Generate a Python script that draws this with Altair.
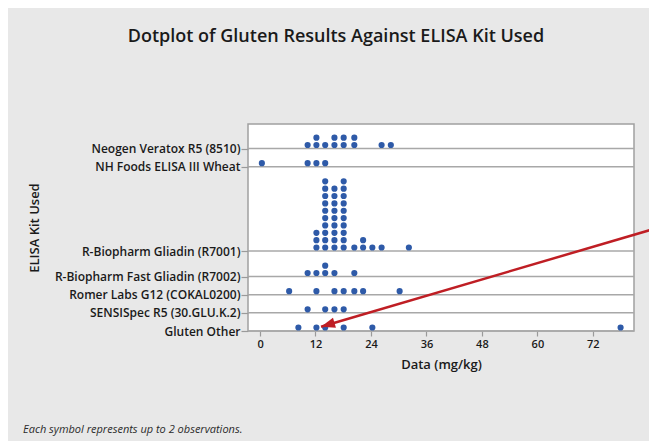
import altair as alt
import pandas as pd

# ---- data (mg/kg); repeated values = stacked dots ----
kits = [
    "Neogen Veratox R5 (8510)",
    "NH Foods ELISA III Wheat",
    "R-Biopharm Gliadin (R7001)",
    "R-Biopharm Fast Gliadin (R7002)",
    "Romer Labs G12 (COKAL0200)",
    "SENSISpec R5 (30.GLU.K.2)",
    "Gluten Other",
]
neogen = [10.3, 12.2, 12.2, 14.1, 16.1, 16.1, 18.1, 18.1, 20.4, 20.4, 26.3, 28.3]
nh_foods = [0.4, 10.3, 12.2, 14.1]
r7001 = [12.2, 12.2, 12.2,
         14.1, 14.1, 14.1, 14.1, 14.1, 14.1, 14.1, 14.1, 14.1, 14.1,
         16.1, 16.1, 16.1, 16.1, 16.1, 16.1, 16.1, 16.1, 16.1,
         18.1, 18.1, 18.1, 18.1, 18.1, 18.1, 18.1, 18.1, 18.1, 18.1,
         20.4, 22.3, 22.3, 24.3, 26.3, 32.2]
r7002 = [10.3, 12.2, 14.1, 14.1, 16.1, 20.4]
romer = [6.3, 12.2, 16.1, 18.1, 20.4, 22.3, 30.2]
sensispec = [10.3, 14.1, 16.1, 18.1]
gluten_other = [8.3, 12.2, 14.1, 18.1, 24.3, 78.0]
series = [neogen, nh_foods, r7001, r7002, romer, sensispec, gluten_other]

x_ticks = [0, 12, 24, 36, 48, 60, 72]
title_text = "Dotplot of Gluten Results Against ELISA Kit Used"
note_text = "Each symbol represents up to 2 observations."

# annotation arrow (data units): start (off the right edge) and tip
arrow_start = (85.8, 14.0)
arrow_tip = (13.2, 0.58)

# ---- dotplot layout: stack dots, groups spaced by their tallest stack ----
GAP = 1.47
rows = []
for kit, vals in zip(kits, series):
    for v in vals:
        rows.append({"kit": kit, "value": v})
df = pd.DataFrame(rows)
df["k"] = df.groupby(["kit", "value"]).cumcount()
maxstack = df.groupby("kit")["k"].max() + 1

baselines = {}
b = 0.0
for kit in reversed(kits):
    baselines[kit] = round(b, 3)
    b += maxstack[kit] + GAP
df["ypos"] = df["kit"].map(baselines) + df["k"] + 0.48

ordered = sorted(baselines.items(), key=lambda t: t[1])
base_df = pd.DataFrame({"kit": [n for n, _ in ordered], "base": [v for _, v in ordered]})
expr = "''"
for i in range(len(ordered) - 1, -1, -1):
    name, val = ordered[i]
    if i == len(ordered) - 1:
        expr = f"'{name}'"
    else:
        mid = (val + ordered[i + 1][1]) / 2
        expr = f"datum.value < {mid:.3f} ? '{name}' : ({expr})"

FONT = "Open Sans"
TXT = "#1a1a1a"

xscale = alt.Scale(domain=[-2.6, 80.9], nice=False, zero=False)
yscale = alt.Scale(domain=[0, 28.16], nice=False, zero=False)

xaxis = alt.Axis(values=x_ticks, title="Data (mg/kg)", grid=False, domain=False,
                 labelOverlap=False,
                 tickColor="#9a9a9a", tickSize=5, tickWidth=1.2,
                 labelFont=FONT, labelFontSize=11, labelFontWeight=600,
                 labelColor=TXT, labelPadding=2,
                 titleFont=FONT, titleFontSize=13, titleFontWeight=600,
                 titleColor=TXT, titleBaseline="alphabetic", titleY=37)
yaxis = alt.Axis(values=[v for _, v in ordered], labelExpr=expr,
                 labelOverlap=False, title="ELISA Kit Used", grid=False,
                 domain=False, tickColor="#9a9a9a",
                 tickSize=7, tickWidth=1.2, labelPadding=1,
                 labelFont=FONT, labelFontSize=12, labelFontWeight=600,
                 labelColor=TXT, labelLimit=400,
                 titleFont=FONT, titleFontSize=13, titleFontWeight=600,
                 titleColor=TXT, titleBaseline="middle", titleAngle=-90,
                 titleX=-214, titleY=103.5)

# group baselines (horizontal lines)
lines = alt.Chart(base_df).mark_rule(color="#a8a8a8", strokeWidth=1.5).encode(
    y=alt.Y("base:Q", scale=yscale, axis=yaxis),
)

dots = alt.Chart(df).mark_circle(size=38, color="#2e5aa8", opacity=1).encode(
    x=alt.X("value:Q", scale=xscale, axis=xaxis),
    y=alt.Y("ypos:Q", scale=yscale, axis=yaxis),
)

arrow_df = pd.DataFrame({"x": [arrow_start[0]], "y": [arrow_start[1]],
                         "x2": [arrow_tip[0]], "y2": [arrow_tip[1]]})
shaft = alt.Chart(arrow_df).mark_rule(color="#bf1e24", strokeWidth=2.5).encode(
    x=alt.X("x:Q", scale=xscale, axis=xaxis), y=alt.Y("y:Q", scale=yscale, axis=yaxis),
    x2="x2:Q", y2="y2:Q")
head = alt.Chart(arrow_df).mark_point(
    shape="M0,0L-2,-0.75L-2,0.75Z", size=196, filled=True, opacity=1,
    color="#bf1e24", angle=163.6).encode(
    x=alt.X("x2:Q", scale=xscale, axis=xaxis), y=alt.Y("y2:Q", scale=yscale, axis=yaxis))

note = alt.Chart(pd.DataFrame({"t": [note_text]})).mark_text(
    font=FONT, fontSize=11, fontStyle="italic", color="#2a2a2a",
    align="left", baseline="alphabetic").encode(
    x=alt.value(-225), y=alt.value(309), text="t:N")

chart = alt.layer(lines, dots, shaft, head, note).properties(
    width=386, height=207,
    title=alt.TitleParams(text=title_text, font=FONT, fontSize=18, fontWeight=600,
                          color=TXT, anchor="middle", dx=-105, offset=64,
                          baseline="alphabetic"),
    autosize=alt.AutoSizeParams(type="none"),
    padding={"left": 240, "top": 116, "right": 15, "bottom": 110},
    background="#e8e8e8",
).configure_view(fill="white", stroke="#a0a0a0", strokeWidth=1.5)

chart.save("out.html", embed_options={"renderer": "svg", "actions": False})
